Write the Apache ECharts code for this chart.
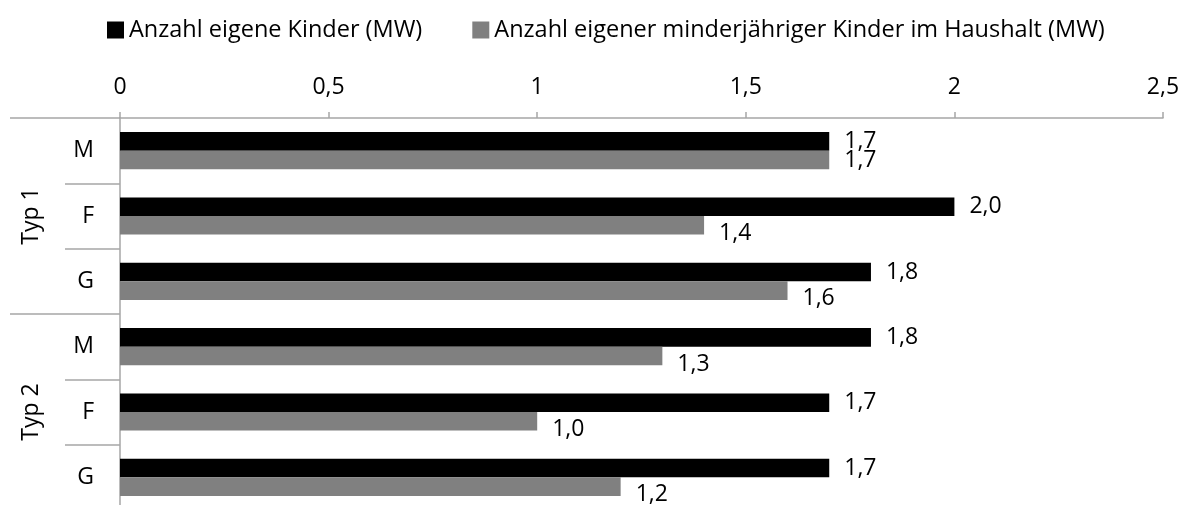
<!DOCTYPE html>
<html>
<head>
<meta charset="utf-8">
<script src="https://cdn.jsdelivr.net/npm/echarts@6/dist/echarts.min.js"></script>
<style>
    html, body { margin: 0; padding: 0; background: #fff; }
    #chart { width: 1184px; height: 505px; }
</style>
</head>
<body>
<div id="chart"></div>
<script>
// 数据
const categories = ['M', 'F', 'G', 'M', 'F', 'G'];
const groups = ['Typ 1', 'Typ 2'];
const seriesNames = ['Anzahl eigene Kinder (MW)', 'Anzahl eigener minderjähriger Kinder im Haushalt (MW)'];
const ownChildren = [1.7, 2.0, 1.8, 1.8, 1.7, 1.7];
const minorChildren = [1.7, 1.4, 1.6, 1.3, 1.0, 1.2];

const fontName = 'Open Sans';
const axisGray = '#a6a6a6';
const labelSize = 23;

// 逗号作小数点
function fmt(v, digits) {
    return (digits == null ? String(v) : v.toFixed(digits)).replace('.', ',');
}

// 灰色标签略往下移
const minorData = minorChildren.map(function (v, i) {
    return {
        value: v,
        label: { offset: [0, v < ownChildren[i] ? 8 : 0] }
    };
});

const chart = echarts.init(document.getElementById('chart'));
const option = {
    animation: false,
    textStyle: { fontFamily: fontName },
    legend: {
        data: seriesNames,
        left: 102,
        top: 13,
        itemWidth: 17,
        itemHeight: 17,
        itemGap: 50,
        icon: 'rect',
        textStyle: { fontFamily: fontName, fontSize: 23.5, color: '#000' }
    },
    grid: {
        left: 120,
        right: 21,
        top: 118,
        height: 392,
        containLabel: false,
        outerBoundsMode: 'none'
    },
    xAxis: {
        type: 'value',
        position: 'top',
        min: 0,
        max: 2.5,
        interval: 0.5,
        axisLine: { show: true, lineStyle: { color: axisGray, width: 1.5 } },
        axisTick: { show: true, length: 6, lineStyle: { color: axisGray, width: 1.5 } },
        splitLine: { show: false },
        axisLabel: {
            margin: 19,
            fontSize: labelSize,
            color: '#000',
            formatter: function (v) { return fmt(v); }
        }
    },
    yAxis: [
        {
            type: 'category',
            data: categories,
            inverse: true,
            axisLine: { show: true, lineStyle: { color: axisGray, width: 1.5 } },
            axisTick: { show: true, length: 55, lineStyle: { color: axisGray, width: 1.5 } },
            axisLabel: { margin: 26, fontSize: labelSize, color: '#000' }
        },
        {
            type: 'category',
            data: groups,
            inverse: true,
            position: 'left',
            axisLine: { show: false },
            axisTick: { show: true, length: 110, lineStyle: { color: axisGray, width: 1.5 } },
            axisLabel: { margin: 77, rotate: 90, fontSize: labelSize, color: '#000' }
        }
    ],
    series: [
        {
            name: seriesNames[0],
            type: 'bar',
            data: ownChildren,
            itemStyle: { color: '#000000' },
            barGap: '0%',
            barCategoryGap: '43%',
            label: {
                show: true,
                position: 'right',
                distance: 15,
                fontSize: labelSize,
                color: '#000',
                formatter: function (p) { return fmt(p.value, 1); }
            }
        },
        {
            name: seriesNames[1],
            type: 'bar',
            data: minorData,
            itemStyle: { color: '#808080' },
            barGap: '0%',
            barCategoryGap: '43%',
            label: {
                show: true,
                position: 'right',
                distance: 15,
                fontSize: labelSize,
                color: '#000',
                formatter: function (p) { return fmt(p.value, 1); }
            }
        }
    ]
};
chart.setOption(option);

window.addEventListener('resize', function () {
    chart.resize();
});
</script>
</body>
</html>
